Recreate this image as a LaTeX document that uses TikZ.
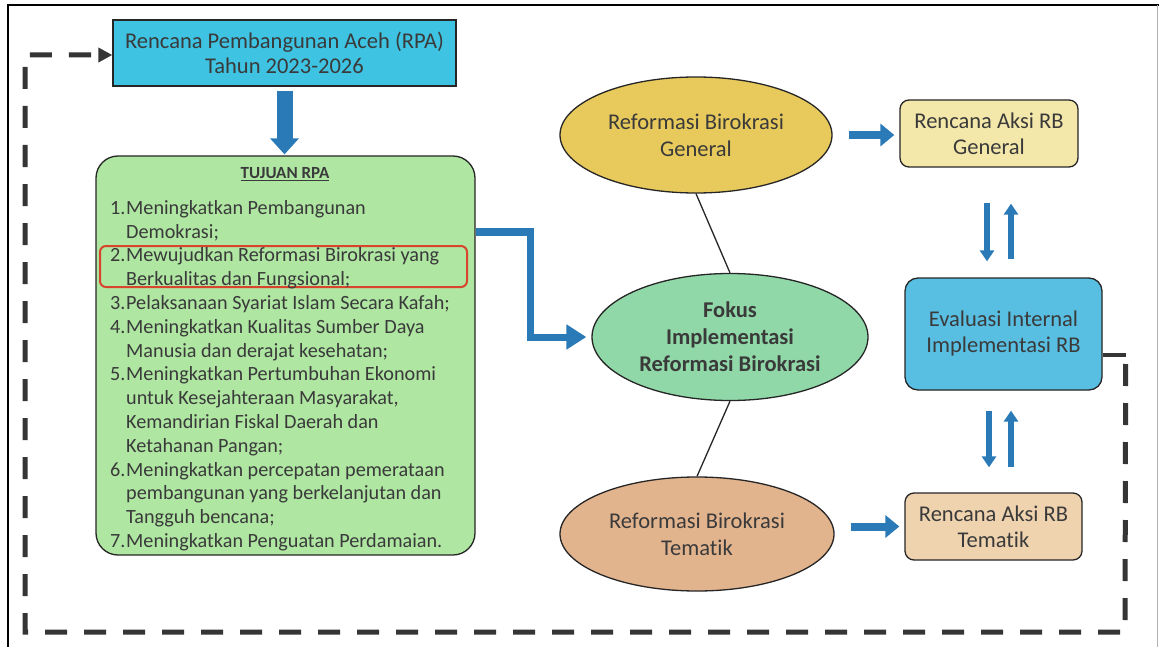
\documentclass[tikz,border=0pt]{standalone}
\usepackage{fontspec}
\setmainfont[Ligatures=NoCommon]{Carlito}
\usetikzlibrary{arrows.meta,shapes.geometric,calc}
\definecolor{txt}{HTML}{3A3A3A}
\definecolor{rpacyan}{HTML}{3EC3E2}
\definecolor{tgreen}{HTML}{AEE6A2}
\definecolor{hlred}{HTML}{D8452C}
\definecolor{arrblue}{HTML}{2A7AB8}
\definecolor{gengold}{HTML}{E7C95C}
\definecolor{fokgreen}{HTML}{90D8A8}
\definecolor{temtan}{HTML}{E2B48E}
\definecolor{ragyel}{HTML}{F3E7AA}
\definecolor{evblue}{HTML}{58BEE2}
\definecolor{rattan}{HTML}{EFD3AF}
\definecolor{dashgray}{HTML}{353535}
\begin{document}
\begin{tikzpicture}[x=1pt,y=-1pt,
  box/.style={draw=black!85, line width=1.3pt, text=txt, align=center, inner sep=0pt},
  elli/.style={box, ellipse},
  bigfont/.style={font=\fontsize{22.5}{26}\selectfont},
  boldbig/.style={font=\fontsize{22.5}{27}\selectfont\bfseries},
  barrow/.style={draw=arrblue, line width=8pt, -{Triangle[length=14pt,width=22pt]}},
  darrow/.style={draw=arrblue, line width=6pt, -{Triangle[length=11pt,width=14pt]}},
  plain/.style={draw=black!85, line width=1.3pt},
  fb/.style={draw=dashgray, line width=5pt, dash pattern=on 22pt off 17pt},
]
\useasboundingbox (0,0) rectangle (1159,647);
\fill[white] (0,0) rectangle (1159,647);
% outer frame
\draw[black, line width=1.5pt] (8,647) -- (8,5) -- (1159,5);
\draw[black!30, line width=1pt] (1157,5) -- (1157,647);

% RPA box
\node[box, fill=rpacyan, minimum width=343pt, minimum height=66pt, font=\fontsize{22.5}{25}\selectfont] (rpa) at (284.5,53)
  {Rencana Pembangunan Aceh (RPA)\\Tahun 2023-2026};

% green box
\node[box, fill=tgreen, rounded corners=22pt, minimum width=379pt, minimum height=399pt] (green) at (285.5,355.5) {};
\node[text=txt, font=\fontsize{17}{20}\selectfont\bfseries] (tj) at (285,174) {\underline{TUJUAN RPA}};
\node[draw=hlred, line width=2pt, rounded corners=6pt, minimum width=367pt, minimum height=41pt, inner sep=0pt] (hl) at (283.5,266.5) {};
\node[anchor=north west, align=left, inner sep=0pt, text=txt, font=\fontsize{20.2}{23.8}\selectfont] (list) at (110,200) {%
\makebox[16pt][l]{1.}Meningkatkan Pembangunan\\
\hspace*{16pt}Demokrasi;\\
\makebox[16pt][l]{2.}Mewujudkan Reformasi Birokrasi yang\\
\hspace*{16pt}Berkualitas dan Fungsional;\\
\makebox[16pt][l]{3.}Pelaksanaan Syariat Islam Secara Kafah;\\
\makebox[16pt][l]{4.}Meningkatkan Kualitas Sumber Daya\\
\hspace*{16pt}Manusia dan derajat kesehatan;\\
\makebox[16pt][l]{5.}Meningkatkan Pertumbuhan Ekonomi\\
\hspace*{16pt}untuk Kesejahteraan Masyarakat,\\
\hspace*{16pt}Kemandirian Fiskal Daerah dan\\
\hspace*{16pt}Ketahanan Pangan;\\
\makebox[16pt][l]{6.}Meningkatkan percepatan pemerataan\\
\hspace*{16pt}pembangunan yang berkelanjutan dan\\
\hspace*{16pt}Tangguh bencana;\\
\makebox[16pt][l]{7.}Meningkatkan Penguatan Perdamaian.};

% ellipses
\node[elli, fill=gengold, minimum width=272pt, minimum height=116pt, font=\fontsize{22.5}{27}\selectfont] (gen) at (696,135)
  {Reformasi Birokrasi\\General};
\node[elli, fill=fokgreen, minimum width=276pt, minimum height=127pt, boldbig] (fok) at (730,337)
  {Fokus\\Implementasi\\Reformasi Birokrasi};
\node[elli, fill=temtan, minimum width=274pt, minimum height=114pt, font=\fontsize{22.5}{27}\selectfont] (tem) at (697,534)
  {Reformasi Birokrasi\\Tematik};

% right boxes
\node[box, fill=ragyel, rounded corners=9pt, minimum width=178pt, minimum height=67pt, bigfont] (rag) at (989,133.5)
  {Rencana Aksi RB\\General};
\node[box, fill=evblue, rounded corners=13pt, minimum width=197pt, minimum height=112pt, bigfont] (ev) at (1003.5,334)
  {Evaluasi Internal\\Implementasi RB};
\node[box, fill=rattan, rounded corners=9pt, minimum width=177pt, minimum height=67pt, bigfont] (rat) at (993.5,526.5)
  {Rencana Aksi RB\\Tematik};

% connectors
\draw[draw=arrblue, line width=16pt, -{Triangle[length=16pt,width=28pt]}, shorten <=4pt, shorten >=1pt]
  (rpa.south) -- (rpa.south |- green.north);
\draw[draw=arrblue, line width=7pt, -{Triangle[length=20pt,width=24pt]}, shorten >=5pt]
  ([yshift=123.5pt]green.east) -- ++(55,0) |- (fok.west);
\draw[plain] (gen.south) -- (fok.north);
\draw[plain] (fok.south) -- (tem.north);
\draw[barrow] ([xshift=16pt]gen.east) -- ([xshift=-5pt]gen.east -| rag.west);
\draw[barrow] ([xshift=16pt]tem.east |- rat.west) -- ([xshift=-5pt]rat.west);

\draw[darrow] ([xshift=-2pt,yshift=-35pt]rag.south) -- ([xshift=-16.5pt,yshift=16pt]ev.north);
\draw[darrow] ([xshift=7.5pt,yshift=18pt]ev.north) -- ([xshift=22pt,yshift=-36pt]rag.south);
\draw[darrow] ([xshift=-14.5pt,yshift=-20pt]ev.south) -- ([xshift=-4.5pt,yshift=25pt]rat.north);
\draw[darrow] ([xshift=17.5pt,yshift=25pt]rat.north) -- ([xshift=7.5pt,yshift=-20pt]ev.south);

% feedback loop
\coordinate (c1) at ([yshift=-21pt]ev.east);
\coordinate (c2) at ($(c1)+(23,0)$);
\coordinate (br) at (1125,632);
\coordinate (bl) at (25,632);
\coordinate (tl) at (25,55);
\draw[draw=dashgray, line width=4pt] (c1) -- (c2);
\draw[fb, -{Triangle[length=14pt,width=14pt]}] ($(c2)+(0,9)$) -- (br) -- (bl) -- (tl) -- (tl -| rpa.west);
\end{tikzpicture}
\end{document}
